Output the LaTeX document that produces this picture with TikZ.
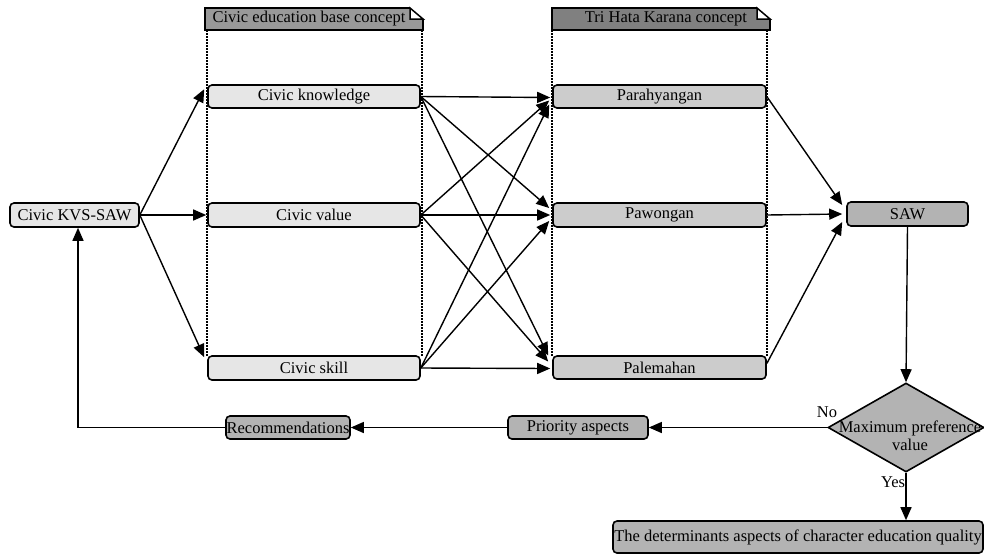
\documentclass[tikz,border=0pt]{standalone}
\usepackage{fontspec}
\setmainfont{Liberation Serif}
\usetikzlibrary{arrows.meta,calc,shapes.geometric}
\definecolor{hdrA}{RGB}{153,153,153}
\definecolor{hdrB}{RGB}{128,128,128}
\definecolor{boxL}{RGB}{230,230,230}
\definecolor{boxM}{RGB}{204,204,204}
\definecolor{boxD}{RGB}{179,179,179}
\begin{document}
\begin{tikzpicture}[x=1pt,y=-1pt,
  font=\fontsize{16.5}{18}\selectfont,
  box/.style={draw=black,line width=1.6pt,rounded corners=4pt,inner sep=0pt,minimum height=23pt},
  lbox/.style={box,fill=boxL},
  mbox/.style={box,fill=boxM},
  dbox/.style={box,fill=boxD},
  arr/.style={line width=1.4pt,-{Triangle[length=13pt,width=11pt]}},
  dots/.style={line width=1.5pt,dash pattern=on 1.5pt off 1.5pt},
  hdr/.style={line width=1.5pt,draw=black}
]
\useasboundingbox (0,0) rectangle (984,555);

% dotted guide lines
\draw[dots] (207,30) -- (207,356);
\draw[dots] (422,30) -- (422,356);
\draw[dots] (552,30) -- (552,356);
\draw[dots] (767,30) -- (767,356);

% headers with folded corner
\fill[hdrA] (205,8) -- (410,8) -- (423,19) -- (423,30) -- (205,30) -- cycle;
\draw[hdr,fill=white] (410,8) -- (410,19) -- (423,19) -- cycle;
\draw[hdr] (410,8) -- (205,8) -- (205,30) -- (423,30) -- (423,19);
\node[inner sep=0pt] (h1) at (309,19) {Civic education base concept};

\fill[hdrB] (552,8) -- (757,8) -- (770,19) -- (770,30) -- (552,30) -- cycle;
\draw[hdr,fill=white] (757,8) -- (757,19) -- (770,19) -- cycle;
\draw[hdr] (757,8) -- (552,8) -- (552,30) -- (770,30) -- (770,19);
\node[inner sep=0pt] (h2) at (666,19) {Tri Hata Karana concept};

% boxes
\node[lbox,minimum width=129pt,minimum height=24pt] (kvs) at (74.5,215) {Civic KVS-SAW};
\node[lbox,minimum width=212pt] (ck) at (314,96.5) {Civic knowledge};
\node[lbox,minimum width=212pt,minimum height=24pt] (cv) at (314,215) {Civic value};
\node[lbox,minimum width=212pt,minimum height=24pt] (cs) at (314,368) {Civic skill};
\node[mbox,minimum width=213pt] (ph) at (659.5,96.5) {Parahyangan};
\node[mbox,minimum width=213pt,minimum height=24pt] (pw) at (659.5,215) {Pawongan};
\node[mbox,minimum width=213pt] (pl) at (659.5,367.5) {Palemahan};
\node[dbox,minimum width=121pt,minimum height=24pt] (saw) at (907.5,214) {SAW};
\node[draw=black,line width=1.6pt,fill=boxD,diamond,aspect=1.75,inner sep=0pt,
      minimum width=156pt,minimum height=89pt] (dia) at (906,427.5) {};
\node[align=center,inner sep=0pt] (diat) at (910,436) {Maximum preference\\value};
\node[dbox,minimum width=140pt] (pri) at (578,427.5) {Priority aspects};
\node[dbox,minimum width=124pt] (rec) at (288,427.5) {Recommendations};
\node[dbox,minimum width=370pt,minimum height=32pt] (det) at (798,537) {The determinants aspects of character education quality};

% labels
\node[inner sep=0pt] (no) at (827,412) {No};
\node[inner sep=0pt] (yes) at (893,482) {Yes};

% connectors from KVS
\draw[arr] (kvs.east) -- ($(ck.north west)+(-3,5)$);
\draw[arr] (kvs.east) -- ($(cv.west)+(-1,0)$);
\draw[arr] (kvs.east) -- ($(cs.north west)+(-3,2)$);

% cross connectors
\draw[arr] (ck.east) -- ($(ph.west)+(-2,1)$);
\draw[arr] (ck.east) -- ($(pw.west)+(-3,-7)$);
\draw[arr] (ck.east) -- ($(pl.west)+(-4,-12)$);
\draw[arr] (cv.east) -- ($(ph.west)+(-3,4)$);
\draw[arr] (cv.east) -- ($(pw.west)+(-2,0)$);
\draw[arr] (cv.east) -- ($(pl.west)+(-4,-6)$);
\draw[arr] (cs.east) -- ($(ph.west)+(-3,8)$);
\draw[arr] (cs.east) -- ($(pw.west)+(-3,6)$);
\draw[arr] (cs.east) -- ($(pl.west)+(-2,1)$);

% to SAW
\draw[arr] (ph.east) -- ($(saw.west)+(-4,-9)$);
\draw[arr] (pw.east) -- ($(saw.west)+(-4,0)$);
\draw[arr] ($(pl.east)+(0,-4)$) -- ($(saw.west)+(-4,8)$);

% decision flow
\draw[arr] (saw.south) -- (dia.north);
\draw[arr] (dia.west) -- (pri.east);
\draw[arr] (pri.west) -- (rec.east);
\draw[arr] (dia.south) -- (dia.south |- det.north);
\draw[arr] (rec.west) -| ($(kvs.south)+(3.5,0)$);
\end{tikzpicture}
\end{document}
